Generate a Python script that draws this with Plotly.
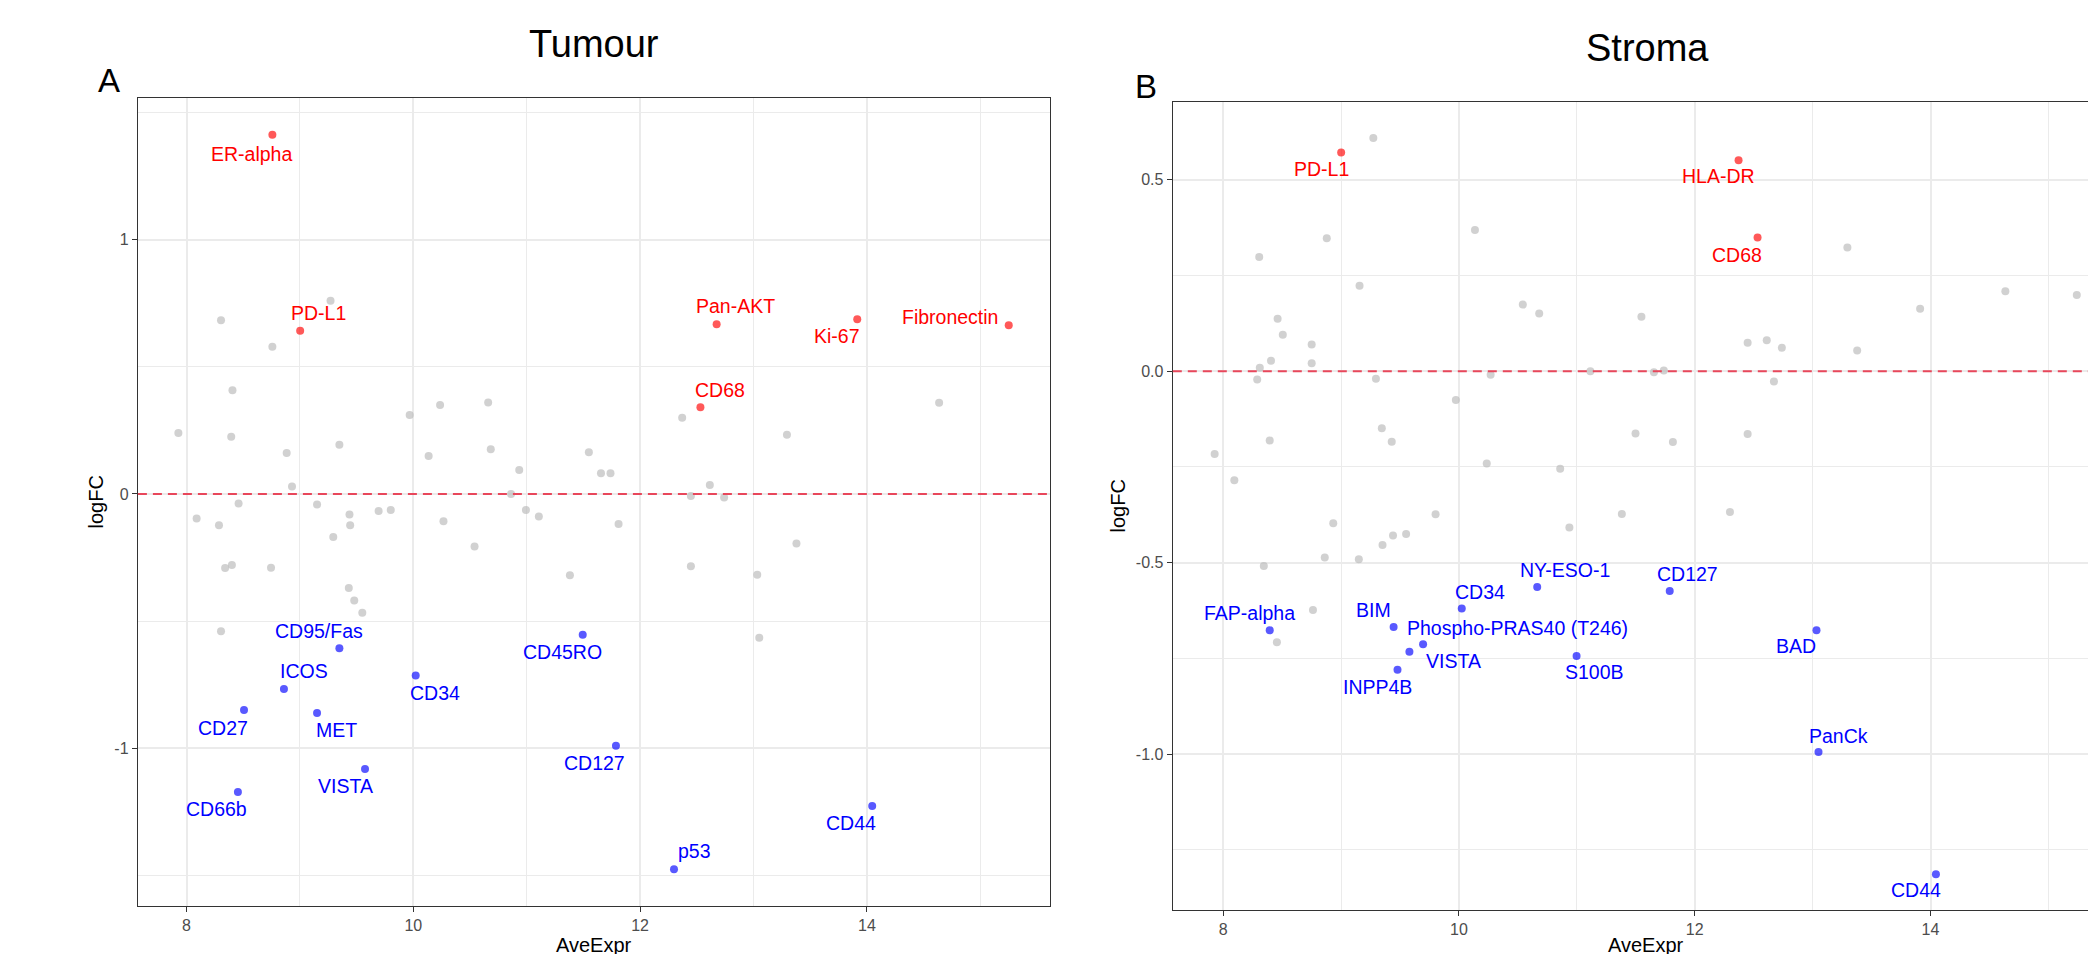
import plotly.graph_objects as go

# ---------------- data ----------------
# Panel A: Tumour
tumour_gray_x = [9.27, 8.304, 8.757, 8.405, 14.637, 12.371, 10.66, 10.236, 9.968, 7.928, 8.394, 9.348,
                 13.295, 8.883, 10.135, 10.683, 11.548, 10.934, 11.655, 11.739, 8.930, 10.862, 12.615,
                 12.448, 12.741, 8.459, 9.151, 8.089, 9.437, 9.694, 9.801, 8.286, 9.443, 10.266, 10.993,
                 11.107, 11.810, 9.294, 10.540, 13.379, 8.340, 8.400, 8.745, 12.448, 11.381, 13.033,
                 9.431, 9.479, 9.550, 8.304, 13.051]
tumour_gray_y = [0.760, 0.683, 0.579, 0.408, 0.359, 0.300, 0.360, 0.350, 0.311, 0.240, 0.225, 0.194,
                 0.233, 0.161, 0.149, 0.176, 0.164, 0.094, 0.082, 0.082, 0.029, 0.0, 0.035,
                 -0.008, -0.014, -0.037, -0.041, -0.096, -0.081, -0.067, -0.063, -0.123, -0.123, -0.107,
                 -0.063, -0.089, -0.118, -0.169, -0.206, -0.195, -0.291, -0.279, -0.290, -0.284, -0.320,
                 -0.318, -0.370, -0.419, -0.467, -0.540, -0.565]

tumour_up_names = ["ER-alpha", "PD-L1", "Pan-AKT", "Ki-67", "Fibronectin", "CD68"]
tumour_up_x = [8.757, 9.002, 12.675, 13.915, 15.251, 12.532]
tumour_up_y = [1.413, 0.642, 0.667, 0.687, 0.664, 0.341]

tumour_down_names = ["CD95/Fas", "CD45RO", "CD34", "ICOS", "CD27", "MET", "CD127", "VISTA",
                     "CD66b", "CD44", "p53"]
tumour_down_x = [9.348, 11.494, 10.021, 8.859, 8.507, 9.151, 11.787, 9.574, 8.453, 14.047, 12.299]
tumour_down_y = [-0.607, -0.554, -0.714, -0.767, -0.849, -0.861, -0.990, -1.081, -1.172, -1.227, -1.476]

# Panel B: Stroma
stroma_gray_x = [9.274, 8.879, 10.136, 13.295, 8.306, 9.157, 14.635, 15.241, 13.912, 10.542, 10.681,
                 11.548, 8.462, 8.506, 8.751, 12.449, 12.611, 12.739, 13.378, 8.406, 8.751, 8.311,
                 11.115, 11.654, 11.738, 10.269, 8.289, 9.296, 12.672, 9.974, 9.346, 8.395, 9.430,
                 11.498, 11.815, 12.449, 7.928, 10.236, 10.859, 8.095, 9.802, 11.382, 12.299, 8.934,
                 10.937, 9.441, 9.552, 9.352, 8.862, 9.151, 8.345, 8.762, 8.456]
stroma_gray_y = [0.609, 0.347, 0.369, 0.323, 0.298, 0.223, 0.209, 0.199, 0.163, 0.174, 0.151,
                 0.142, 0.137, 0.095, 0.070, 0.074, 0.081, 0.061, 0.054, 0.027, 0.021, 0.009,
                 0.0, -0.003, 0.002, -0.009, -0.022, -0.020, -0.027, -0.075, -0.149, -0.181, -0.184,
                 -0.163, -0.185, -0.164, -0.216, -0.241, -0.255, -0.285, -0.374, -0.373, -0.368, -0.397,
                 -0.408, -0.429, -0.425, -0.454, -0.487, -0.491, -0.509, -0.624, -0.708]

stroma_up_names = ["PD-L1", "HLA-DR", "CD68"]
stroma_up_x = [9.001, 12.372, 12.533]
stroma_up_y = [0.571, 0.551, 0.349]

stroma_down_names = ["FAP-alpha", "BIM", "CD34", "NY-ESO-1", "CD127", "Phospho-PRAS40 (T246)",
                     "VISTA", "INPP4B", "S100B", "BAD", "PanCk", "CD44"]
stroma_down_x = [8.395, 9.446, 10.024, 10.664, 11.788, 9.696, 9.580, 9.479, 10.998, 13.033, 13.050, 14.046]
stroma_down_y = [-0.677, -0.668, -0.620, -0.564, -0.574, -0.713, -0.733, -0.780, -0.744, -0.677, -0.995, -1.314]

# tick values / labels
x_tickvals = [8, 10, 12, 14]
x_ticktext = ["8", "10", "12", "14"]
tumour_y_tickvals = [-1, 0, 1]
tumour_y_ticktext = ["-1", "0", "1"]
stroma_y_tickvals = [-1.0, -0.5, 0.0, 0.5]
stroma_y_ticktext = ["-1.0", "-0.5", "0.0", "0.5"]

# label placement (pixel offsets of the repelled labels from their points)
tumour_label_offsets = {
    "ER-alpha": (-21, -19), "PD-L1": (18, 18), "Pan-AKT": (19, 18), "Ki-67": (-20, -17),
    "Fibronectin": (-59, 8), "CD68": (20, 17),
    "CD95/Fas": (-20, 17), "CD45RO": (-20, -17), "CD34": (19, -17), "ICOS": (20, 18),
    "CD27": (-21, -18), "MET": (19, -17), "CD127": (-21, -17), "VISTA": (-20, -17),
    "CD66b": (-21, -17), "CD44": (-21, -17), "p53": (20, 18),
}
stroma_label_offsets = {
    "PD-L1": (-20, -16), "HLA-DR": (-20, -16), "CD68": (-21, -17),
    "FAP-alpha": (-20, 17), "BIM": (-20, 17), "CD34": (18, 17), "NY-ESO-1": (28, 17),
    "CD127": (18, 17), "Phospho-PRAS40 (T246)": (94, 16), "VISTA": (44, -9),
    "INPP4B": (-20, -17), "S100B": (18, -16), "BAD": (-20, -16), "PanCk": (20, 16), "CD44": (-20, -16),
}

# ---------------- style ----------------
W, H = 2088, 954
FONT = "Liberation Sans, Arial, Helvetica, sans-serif"
GRAY_PT = "rgba(185,185,185,0.65)"
RED_PT = "rgba(255,0,0,0.65)"
BLUE_PT = "rgba(0,0,255,0.65)"
GRID = "#EBEBEB"
AXC = "#333333"


def px(xp):
    return xp / W


def py(yp):
    return 1 - yp / H


fig = go.Figure()


def add_panel(xa, ya, gx, gy, ux, uy, un, dx, dy, dn, offsets):
    fig.add_shape(type="line", xref=f"{xa} domain", yref=ya, x0=0, x1=1, y0=0, y1=0,
                  line=dict(color="#E8475B", width=2, dash="9px,6px"), layer="above")
    fig.add_trace(go.Scatter(x=gx, y=gy, mode="markers", xaxis=xa, yaxis=ya,
                             marker=dict(size=8, color=GRAY_PT, line=dict(width=0)),
                             showlegend=False, hoverinfo="skip"))
    fig.add_trace(go.Scatter(x=ux, y=uy, mode="markers", xaxis=xa, yaxis=ya,
                             marker=dict(size=8, color=RED_PT, line=dict(width=0)),
                             showlegend=False, text=un))
    fig.add_trace(go.Scatter(x=dx, y=dy, mode="markers", xaxis=xa, yaxis=ya,
                             marker=dict(size=8, color=BLUE_PT, line=dict(width=0)),
                             showlegend=False, text=dn))
    for names, xs, ys, col in ((un, ux, uy, "#FF0000"), (dn, dx, dy, "#0000FF")):
        for n, x, y in zip(names, xs, ys):
            ox, oy = offsets[n]
            fig.add_annotation(x=x, y=y, xref=xa, yref=ya, text=n, showarrow=False,
                               xshift=ox, yshift=oy, xanchor="center", yanchor="middle",
                               font=dict(family=FONT, size=19.5, color=col))


add_panel("x", "y", tumour_gray_x, tumour_gray_y, tumour_up_x, tumour_up_y, tumour_up_names,
          tumour_down_x, tumour_down_y, tumour_down_names, tumour_label_offsets)
add_panel("x2", "y2", stroma_gray_x, stroma_gray_y, stroma_up_x, stroma_up_y, stroma_up_names,
          stroma_down_x, stroma_down_y, stroma_down_names, stroma_label_offsets)

tickfont = dict(family=FONT, size=16, color="#4D4D4D")
common = dict(showgrid=True, gridcolor=GRID, gridwidth=2, zeroline=False, showline=True,
              linecolor=AXC, linewidth=1.3, ticks="outside", ticklen=5, tickwidth=1.3,
              tickcolor=AXC, tickfont=tickfont, tickmode="array")

fig.update_layout(
    width=W, height=H, margin=dict(l=0, r=0, t=0, b=0),
    paper_bgcolor="white", plot_bgcolor="white", showlegend=False,
    xaxis=dict(domain=[px(137.9), px(1050)], range=[7.571, 15.615],
               tickvals=x_tickvals, ticktext=x_ticktext, mirror=True, anchor="y",
               minor=dict(tickmode="linear", tick0=0, dtick=1, showgrid=True, gridcolor=GRID,
                          gridwidth=1.2), **common),
    yaxis=dict(domain=[py(905.7), py(98.3)], range=[-1.619, 1.556],
               tickvals=tumour_y_tickvals, ticktext=tumour_y_ticktext, mirror=True, anchor="x",
               minor=dict(tickmode="linear", tick0=0, dtick=0.5, showgrid=True, gridcolor=GRID,
                          gridwidth=1.2), **common),
    xaxis2=dict(domain=[px(1172.8), 1.0], range=[7.573, 15.336],
                tickvals=x_tickvals, ticktext=x_ticktext, mirror=True, anchor="y2",
                minor=dict(tickmode="linear", tick0=0, dtick=1, showgrid=True, gridcolor=GRID,
                           gridwidth=1.2), **common),
    yaxis2=dict(domain=[py(910), py(101.7)], range=[-1.4075, 0.704],
                tickvals=stroma_y_tickvals, ticktext=stroma_y_ticktext, mirror=False, anchor="x2",
                minor=dict(tickmode="linear", tick0=0, dtick=0.25, showgrid=True, gridcolor=GRID,
                           gridwidth=1.2), **common),
)

# titles, panel letters, axis titles
texts = [
    ("Tumour", 594, 44, 38, 0),
    ("Stroma", 1647, 48, 38, 0),
    ("A", 109, 80, 33, 0),
    ("B", 1146, 87, 33, 0),
    ("logFC", 95.5, 502, 20, -90),
    ("logFC", 1117.5, 506, 20, -90),
]
for t, xp, yp, fs, ang in texts:
    fig.add_annotation(x=px(xp), y=py(yp), xref="paper", yref="paper", text=t, showarrow=False,
                       xanchor="center", yanchor="middle", textangle=ang,
                       font=dict(family=FONT, size=fs, color="black"))
for xp in (594, 1646):
    fig.add_annotation(x=px(xp), y=py(932), xref="paper", yref="paper", text="AveExpr",
                       showarrow=False, xanchor="center", yanchor="top",
                       font=dict(family=FONT, size=20, color="black"))

fig.write_html("out.html")
